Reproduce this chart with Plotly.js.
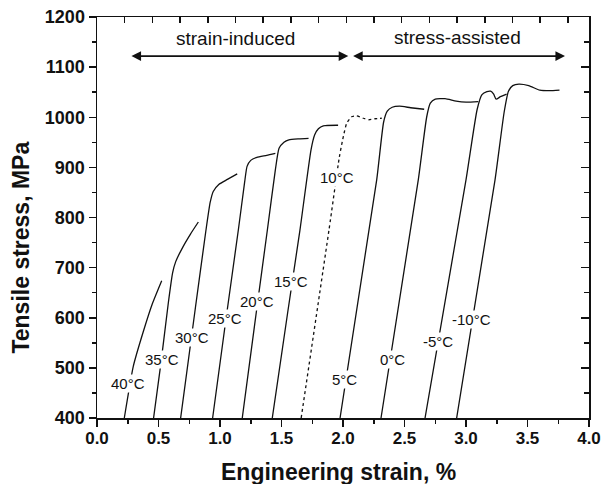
<!DOCTYPE html>
<html>
<head>
<meta charset="utf-8">
<script src="https://cdn.plot.ly/plotly-3.0.1.min.js"></script>
<style>html,body{margin:0;padding:0;background:#fff;}#chart{width:611px;height:484px;}</style>
</head>
<body>
<div id="chart"></div>
<script>
// ---- data (engineering strain %, tensile stress MPa) ----
const labels = ['40°C','35°C','30°C','25°C','20°C','15°C','10°C','5°C','0°C','-5°C','-10°C'];

const s40x = [0.222, 0.295, 0.376, 0.45, 0.526];
const s40y = [400, 503, 572, 628, 674];

const s35x = [0.46, 0.52, 0.58, 0.615, 0.64, 0.70, 0.76, 0.824];
const s35y = [400, 510, 630, 690, 712, 742, 767, 791];

const s30x = [0.68, 0.80, 0.886, 0.92, 0.945, 0.99, 1.06, 1.14];
const s30y = [400, 620, 775, 830, 852, 866, 876, 887];

const s25x = [0.94, 1.05, 1.149, 1.20, 1.22, 1.25, 1.30, 1.38, 1.45];
const s25y = [400, 600, 775, 870, 902, 914, 920, 924, 928];

const s20x = [1.181, 1.30, 1.385, 1.45, 1.48, 1.52, 1.56, 1.64, 1.72];
const s20y = [400, 620, 775, 895, 938, 950, 955, 957, 958];

const s15x = [1.425, 1.55, 1.65, 1.74, 1.77, 1.80, 1.84, 1.96];
const s15y = [400, 610, 775, 935, 965, 977, 983, 984];

const s10x = [1.66, 1.886, 1.97, 2.003, 2.03, 2.07, 2.11, 2.165, 2.21, 2.26, 2.315];
const s10y = [400, 775, 920, 962, 988, 1001, 1003, 998, 995, 997, 998];

const s5x = [1.976, 2.274, 2.33, 2.36, 2.40, 2.46, 2.55, 2.66];
const s5y = [400, 875, 990, 1012, 1020, 1022, 1019, 1016];

const s0x = [2.309, 2.612, 2.68, 2.71, 2.75, 2.83, 2.92, 3.00, 3.10];
const s0y = [400, 875, 1000, 1028, 1036, 1037, 1032, 1030, 1031];

const sm5x = [2.667, 3.0, 3.09, 3.13, 3.17, 3.20, 3.225, 3.245, 3.28, 3.33];
const sm5y = [400, 875, 1015, 1045, 1051, 1052, 1046, 1036, 1041, 1046];

const sm10x = [2.924, 3.236, 3.31, 3.345, 3.38, 3.43, 3.51, 3.60, 3.68, 3.76];
const sm10y = [400, 875, 1010, 1052, 1063, 1066, 1063, 1054, 1053, 1054];

// label anchor positions (strain, stress)
const labelX = [0.255, 0.526, 0.775, 1.041, 1.298, 1.575, 1.949, 2.011, 2.401, 2.775, 3.046];
const labelY = [468, 516, 560, 599, 632, 672, 879, 476, 516, 552, 596];

// regime arrows
const regimeText = ['strain-induced', 'stress-assisted'];
const regimeStart = [0.268, 2.07];
const regimeEnd = [2.043, 3.805];
const regimeArrowY = [1122, 1122];
const regimeTextX = [1.122, 2.932];
const regimeTextY = [1157, 1159];

// ---- build ----
const seriesX = [s40x, s35x, s30x, s25x, s20x, s15x, s10x, s5x, s0x, sm5x, sm10x];
const seriesY = [s40y, s35y, s30y, s25y, s20y, s15y, s10y, s5y, s0y, sm5y, sm10y];
const FONT = 'Liberation Sans, Arial, sans-serif';

const traces = seriesX.map((xs, i) => ({
  x: xs, y: seriesY[i], type: 'scatter', mode: 'lines', name: labels[i],
  line: {color: '#111', width: 1.3, shape: 'spline', smoothing: 0.5,
         dash: labels[i] === '10°C' ? 'dot' : 'solid'},
  showlegend: false, hoverinfo: 'skip'
}));

const annotations = [];
labels.forEach((t, i) => {
  annotations.push({x: labelX[i], y: labelY[i], xref: 'x', yref: 'y', text: t,
    xanchor: 'center', yanchor: 'middle',
    showarrow: false, bgcolor: '#fff', borderpad: 0,
    font: {family: FONT, size: 15, color: '#111'}});
});
regimeText.forEach((t, i) => {
  annotations.push({x: regimeEnd[i], y: regimeArrowY[i], ax: regimeStart[i], ay: regimeArrowY[i],
    xref: 'x', yref: 'y', axref: 'x', ayref: 'y', text: '', showarrow: true,
    arrowhead: 2, arrowside: 'end+start', arrowsize: 1.2, arrowwidth: 1.6, arrowcolor: '#111'});
  annotations.push({x: regimeTextX[i], y: regimeTextY[i], xref: 'x', yref: 'y', text: t,
    xanchor: 'center', yanchor: 'middle',
    showarrow: false, font: {family: FONT, size: 19, color: '#111'}});
});
annotations.push({x: 0.49, y: -0.134, xref: 'paper', yref: 'paper', text: 'Engineering strain, %',
  xanchor: 'center', yanchor: 'middle',
  showarrow: false, font: {family: FONT, size: 23, weight: 'bold', color: '#111'}});
annotations.push({x: -0.1545, y: 0.425, xref: 'paper', yref: 'paper', text: 'Tensile stress, MPa',
  xanchor: 'center', yanchor: 'middle',
  textangle: -90, showarrow: false, font: {family: FONT, size: 23, weight: 'bold', color: '#111'}});

const layout = {
  width: 611, height: 484,
  margin: {l: 97, r: 22, t: 17, b: 66, pad: 0},
  paper_bgcolor: '#fff', plot_bgcolor: '#fff',
  showlegend: false,
  xaxis: {range: [0, 4], dtick: 0.5, tick0: 0, tickformat: '.1f',
    ticks: 'outside', ticklen: 7, tickwidth: 1.5, tickcolor: '#111', ticklabelstandoff: -3,
    minor: {dtick: 0.25, ticks: 'outside', ticklen: 4, tickwidth: 1.5, tickcolor: '#111'},
    showline: true, linewidth: 1.5, linecolor: '#111', showgrid: false, zeroline: false,
    tickfont: {family: FONT, size: 17, weight: 'bold', color: '#111'}},
  xaxis2: {overlaying: 'x', side: 'top', anchor: 'y', range: [0, 17.76], dtick: 1, tick0: 0,
    ticks: 'inside', ticklen: 6, tickwidth: 1.5, tickcolor: '#111', showticklabels: false,
    showline: true, linewidth: 1.5, linecolor: '#111', showgrid: false, zeroline: false},
  yaxis: {range: [400, 1200], dtick: 100, tick0: 400,
    ticks: 'outside', ticklen: 7, tickwidth: 1.5, tickcolor: '#111',
    minor: {dtick: 50, ticks: 'outside', ticklen: 4, tickwidth: 1.5, tickcolor: '#111'},
    showline: true, linewidth: 1.5, linecolor: '#111', showgrid: false, zeroline: false,
    tickfont: {family: FONT, size: 18, weight: 'bold', color: '#111'}},
  yaxis2: {overlaying: 'y', side: 'right', anchor: 'x', range: [400, 1200], dtick: 100, tick0: 400,
    ticks: 'inside', ticklen: 8, tickwidth: 1.5, tickcolor: '#111', showticklabels: false,
    minor: {dtick: 50, ticks: 'inside', ticklen: 5, tickwidth: 1.5, tickcolor: '#111'},
    showline: true, linewidth: 1.5, linecolor: '#111', showgrid: false, zeroline: false},
  annotations: annotations
};

// invisible traces to activate the mirror axes
traces.push({x: [0], y: [400], xaxis: 'x2', yaxis: 'y', mode: 'markers', marker: {opacity: 0}, showlegend: false, hoverinfo: 'skip'});
traces.push({x: [0], y: [400], xaxis: 'x', yaxis: 'y2', mode: 'markers', marker: {opacity: 0}, showlegend: false, hoverinfo: 'skip'});

Plotly.newPlot('chart', traces, layout, {staticPlot: true, displayModeBar: false});
</script>
</body>
</html>
